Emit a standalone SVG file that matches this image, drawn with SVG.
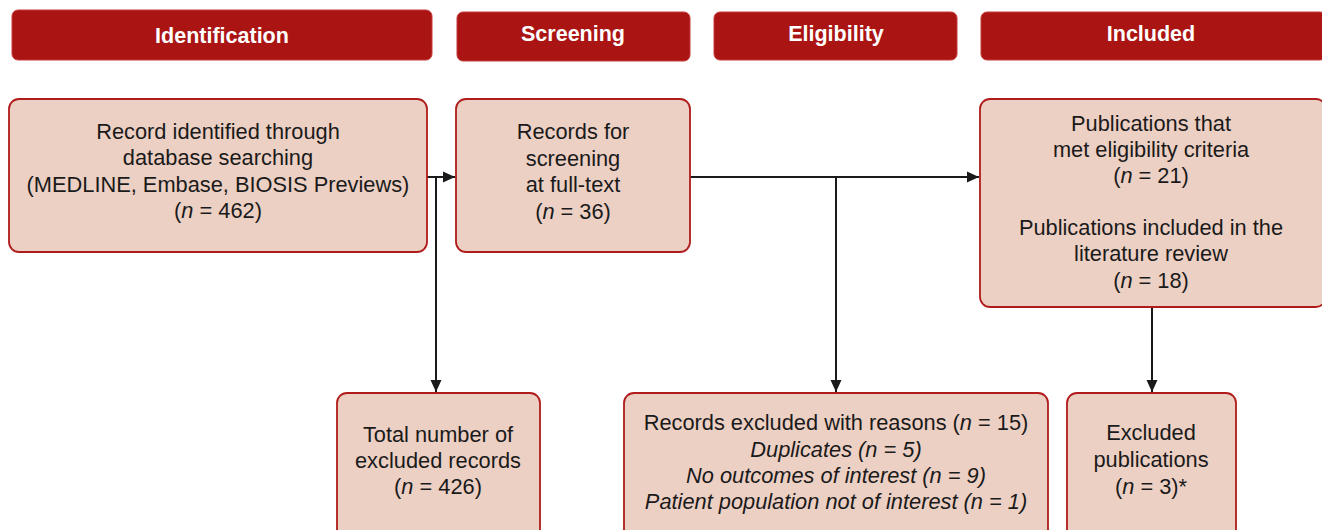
<svg xmlns="http://www.w3.org/2000/svg" width="1322" height="530" viewBox="0 0 1322 530">
<style>
.hdr{fill:#AA1514;stroke:#C43A3A;stroke-width:1}
.hdrt{font-family:"Liberation Sans",Arial,sans-serif;font-weight:bold;font-size:21.5px;fill:#fff;text-anchor:middle}
.box{fill:#EDD0C4;stroke:#B01B1B;stroke-width:1.8}
.t{font-family:"Liberation Sans",Arial,sans-serif;font-size:21.8px;fill:#1a1a1a;text-anchor:middle}
.conn{stroke:#1a1a1a;stroke-width:2;fill:none}
</style>
<defs>
<marker id="arr" viewBox="0 0 12 12" refX="12" refY="6" markerWidth="12" markerHeight="12" markerUnits="userSpaceOnUse" orient="auto">
<path d="M0,0.5 L12,6 L0,11.5 z" fill="#1a1a1a"/>
</marker>
</defs>

<g id="hdr-identification"><rect class="hdr" x="12" y="10" width="420" height="50" rx="6"/><text class="hdrt" x="222" y="43">Identification</text></g>
<g id="hdr-screening"><rect class="hdr" x="457" y="12" width="233" height="49" rx="6"/><text class="hdrt" x="573" y="41">Screening</text></g>
<g id="hdr-eligibility"><rect class="hdr" x="714" y="12" width="243" height="48" rx="6"/><text class="hdrt" x="836" y="41">Eligibility</text></g>
<g id="hdr-included"><rect class="hdr" x="981" y="12" width="345" height="48" rx="6"/><text class="hdrt" x="1151" y="41">Included</text></g>

<g id="connectors">
<line class="conn" x1="427" y1="177" x2="455" y2="177" marker-end="url(#arr)"/>
<line class="conn" x1="436" y1="177" x2="436" y2="392" marker-end="url(#arr)"/>
<line class="conn" x1="690" y1="177" x2="979" y2="177" marker-end="url(#arr)"/>
<line class="conn" x1="836" y1="177" x2="836" y2="392" marker-end="url(#arr)"/>
<line class="conn" x1="1152" y1="307" x2="1152" y2="392" marker-end="url(#arr)"/>
</g>

<g id="node-identified"><rect class="box" x="9" y="99" width="418" height="153" rx="10"/>
<text class="t" x="218" y="139">Record identified through</text>
<text class="t" x="218" y="165">database searching</text>
<text class="t" x="218" y="192">(MEDLINE, Embase, BIOSIS Previews)</text>
<text class="t" x="218" y="218">(<tspan font-style="italic">n</tspan> = 462)</text>
</g>
<g id="node-screening"><rect class="box" x="456" y="99" width="234" height="153" rx="10"/>
<text class="t" x="573" y="139">Records for</text>
<text class="t" x="573" y="166">screening</text>
<text class="t" x="573" y="192">at full-text</text>
<text class="t" x="573" y="219">(<tspan font-style="italic">n</tspan> = 36)</text>
</g>
<g id="node-included"><rect class="box" x="980" y="99" width="346" height="208" rx="10"/>
<text class="t" x="1151" y="131">Publications that</text>
<text class="t" x="1151" y="157">met eligibility criteria</text>
<text class="t" x="1151" y="183">(<tspan font-style="italic">n</tspan> = 21)</text>
<text class="t" x="1151" y="235">Publications included in the</text>
<text class="t" x="1151" y="261">literature review</text>
<text class="t" x="1151" y="288">(<tspan font-style="italic">n</tspan> = 18)</text>
</g>
<g id="node-total-excluded"><rect class="box" x="337" y="393" width="203" height="150" rx="10"/>
<text class="t" x="438" y="442">Total number of</text>
<text class="t" x="438" y="468">excluded records</text>
<text class="t" x="438" y="494">(<tspan font-style="italic">n</tspan> = 426)</text>
</g>
<g id="node-records-excluded"><rect class="box" x="624" y="393" width="424" height="150" rx="10"/>
<text class="t" x="836" y="430">Records excluded with reasons (<tspan font-style="italic">n</tspan> = 15)</text>
<text class="t" x="836" y="457" font-style="italic">Duplicates (n = 5)</text>
<text class="t" x="836" y="483" font-style="italic">No outcomes of interest (n = 9)</text>
<text class="t" x="836" y="509" font-style="italic">Patient population not of interest (n = 1)</text>
</g>
<g id="node-excluded-pubs"><rect class="box" x="1067" y="393" width="169" height="150" rx="10"/>
<text class="t" x="1151" y="440">Excluded</text>
<text class="t" x="1151" y="467">publications</text>
<text class="t" x="1151" y="494">(<tspan font-style="italic">n</tspan> = 3)*</text>
</g>
</svg>
